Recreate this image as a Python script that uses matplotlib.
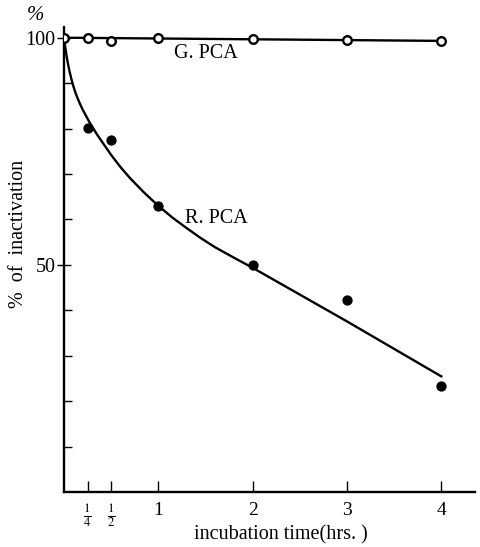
import matplotlib
matplotlib.use("Agg")
import matplotlib.pyplot as plt
import numpy as np

plt.rcParams['font.family'] = ['Liberation Serif', 'DejaVu Serif']
plt.rcParams['mathtext.fontset'] = 'stix'

# G. PCA (open circles)
g_time = [0, 0.25, 0.5, 1, 2, 3, 4]
g_vals = [100, 100, 99.2, 100, 99.8, 99.6, 99.2]
g_line_time = [0, 4]
g_line_vals = [100, 99.3]

# R. PCA (filled circles)
r_time = [0.25, 0.5, 1, 2, 3, 4]
r_vals = [80.1, 77.4, 63.0, 50.0, 42.3, 23.3]
# fitted curve knots
r_curve_time = [0, 0.015, 0.03, 0.045, 0.06, 0.08, 0.1, 0.125, 0.15, 0.175, 0.2, 0.27, 0.35, 0.42, 0.5, 0.6, 0.7,
                0.85, 1.0, 1.15, 1.3, 1.45, 1.6, 1.8, 2.0, 3.0, 4.0]
r_curve_vals = [100, 97.7, 95.7, 94.0, 92.5, 90.8, 89.3, 87.7, 86.4, 85.2, 84.1, 81.4, 78.7, 76.6, 74.2,
                71.5, 69.1, 65.9, 63.0, 60.4, 58.1, 55.9, 53.9, 51.6, 49.36, 37.56, 25.46]

x_ticks = [0.25, 0.5, 1, 2, 3, 4]
x_labels = [r'$\frac{1}{4}$', r'$\frac{1}{2}$', '1', '2', '3', '4']
y_major = [50, 100]
y_minor = [10, 20, 30, 40, 60, 70, 80, 90]

fig = plt.figure(figsize=(4.81, 5.47), dpi=100)
ax = fig.add_axes([0.133, 0.1005, 0.855, 0.8505])
ax.set_xlim(0, 4.36)
ax.set_ylim(0, 102.4)

ax.plot(g_line_time, g_line_vals, color='black', lw=1.7, zorder=2)
ax.plot(g_time, g_vals, 'o', ms=6.2, mfc='white', mec='black', mew=1.7, zorder=3)
ax.plot(r_curve_time, r_curve_vals, color='black', lw=1.7, zorder=2, solid_joinstyle='round')
ax.plot(r_time, r_vals, 'o', ms=6.4, color='black', zorder=3)

for s in ['top', 'right']:
    ax.spines[s].set_visible(False)
for s in ['left', 'bottom']:
    ax.spines[s].set_linewidth(1.7)

ax.set_xticks(x_ticks)
ax.set_xticklabels(x_labels)
ax.tick_params(axis='x', direction='in', length=8, width=1.0, labelsize=14, pad=7)
ax.set_yticks(y_major)
ax.set_yticks(y_minor, minor=True)
ax.tick_params(axis='y', which='major', direction='inout', length=10, width=1.0, labelsize=14.5, pad=1)
ax.tick_params(axis='y', which='minor', direction='in', length=6, width=1.0)
for lbl in ax.get_xticklabels()[:2]:
    lbl.set_fontsize(13)

fig.text(281/481, 1 - 535/547, 'incubation time(hrs. )', ha='center', va='center', fontsize=14.5)
fig.text(19/481, 1 - 234/547, '%  of  inactivation', ha='center', va='center', rotation=90, fontsize=14.5)
fig.text(35/481, 1 - 15/547, '%', ha='center', va='center', fontsize=15, style='italic')
ax.text(1.5, 96.6, 'G. PCA', ha='center', va='center', fontsize=14.5)
ax.text(1.62, 60.3, 'R. PCA', ha='center', va='center', fontsize=14.5)

fig.savefig('out.png', dpi=100)
